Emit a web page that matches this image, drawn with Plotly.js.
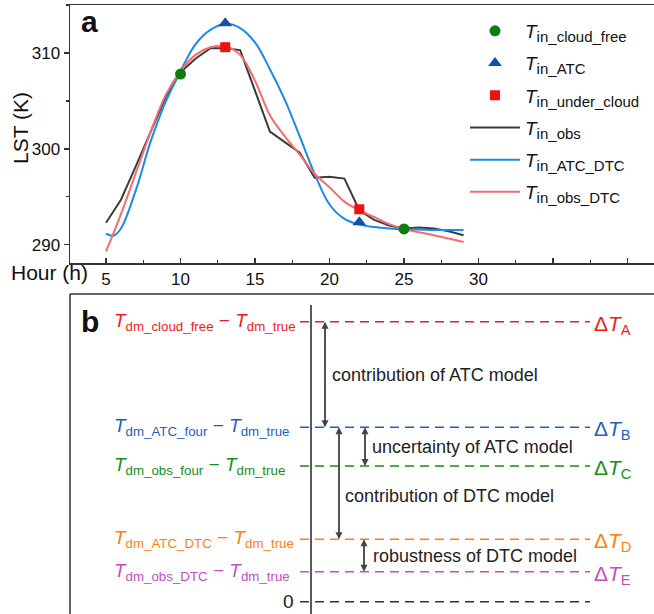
<!DOCTYPE html>
<html>
<head>
<meta charset="utf-8">
<script src="https://cdn.plot.ly/plotly-3.0.1.min.js"></script>
<style>html,body{margin:0;padding:0;background:#fff}#chart{width:654px;height:614px}</style>
</head>
<body>
<div id="chart"></div>
<script>
// ---------- Panel a data ----------
const obsHours = [5,6,7,8,9,10,11,12,13,14,15,16,17,18,19,20,21,22,23,24,25,26,27,28,29];
const obsLST = [292.3,294.7,298.2,301.8,305.4,308.0,309.4,310.5,310.5,310.3,306.0,301.8,300.7,299.6,297.0,297.1,296.9,293.6,292.6,292.0,291.7,291.8,291.7,291.4,291.0];

const atcDtcHours = [5,5.5,6,7,8,9,10,11,12,13,14,15,16,17,18,19,20,21,22,23,24,25,26,27,28,29];
const atcDtcLST = [291.15,290.95,291.7,295.7,300.8,304.9,308.1,310.9,312.4,313.05,312.6,311.1,308.3,305.1,301.3,297.4,294.2,292.7,292.1,291.85,291.7,291.6,291.6,291.55,291.55,291.55];

const obsDtcHours = [5,6,7,8,9,10,11,12,13,14,15,16,17,18,19,20,21,22,23,24,25,26,27,28,29];
const obsDtcLST = [289.3,293.2,297.5,301.8,305.6,308.1,309.8,310.6,310.7,309.8,307.1,303.5,301.3,299.4,297.4,296.0,294.5,293.6,292.9,292.15,291.65,291.3,291.0,290.65,290.3];

const cloudFreeHours = [10,25];
const cloudFreeLST = [307.8,291.65];
const atcHours = [13,22];
const atcLST = [313.1,292.35];
const underCloudHours = [13,22];
const underCloudLST = [310.6,293.7];

const xTickVals = [5,10,15,20,25,30,35,40];
const xTickText = ['5','10','15','20','25','30','',''];
const yTickVals = [290,300,310];

// ---------- Panel b data ----------
const levelKeys = ['A','B','C','D','E','0'];
const levelValues = [280,174.4,135.7,62.4,30,0];
const levelColors = ['#ee1c1c','#1f5fbf','#1a8c1a','#ff7f0e','#c050c0','#333333'];
const levelLabels = [
  '<i>T</i><sub>dm_cloud_free</sub> − <i>T</i><sub>dm_true</sub>',
  '<i>T</i><sub>dm_ATC_four</sub> − <i>T</i><sub>dm_true</sub>',
  '<i>T</i><sub>dm_obs_four</sub> − <i>T</i><sub>dm_true</sub>',
  '<i>T</i><sub>dm_ATC_DTC</sub> − <i>T</i><sub>dm_true</sub>',
  '<i>T</i><sub>dm_obs_DTC</sub> − <i>T</i><sub>dm_true</sub>',
  '0'
];
const deltaLabels = ['Δ<i>T</i><sub>A</sub>','Δ<i>T</i><sub>B</sub>','Δ<i>T</i><sub>C</sub>','Δ<i>T</i><sub>D</sub>','Δ<i>T</i><sub>E</sub>',''];
// arrows between levels
const arrowFrom = [0,1,1,3];
const arrowTo = [1,2,3,4];
const arrowX = [325,365,339,364];
const arrowText = ['contribution of ATC model','uncertainty of ATC model','contribution of DTC model','robustness of DTC model'];
const arrowTextX = [330,370,343,371];
const arrowTextY = [226.7,155,105.7,45.7];

const FONT = 'Arial, "Liberation Sans", sans-serif';
const W = 654, H = 614;
const py = p => (H - p) / H; // pixel y -> paper
const px = p => p / W;
const legName = sub => '<i>T</i><sub><span style="font-size:15px">' + sub + '</span></sub>';

const traces = [
  {x: obsHours, y: obsLST, mode: 'lines', line: {color: '#3c3c3c', width: 2}, name: legName('in_obs'), legendrank: 4, legendgroup: 'g4'},
  {x: atcDtcHours, y: atcDtcLST, mode: 'lines', line: {color: '#1a8ae8', width: 2, shape: 'spline', smoothing: 1}, name: legName('in_ATC_DTC'), legendrank: 5, legendgroup: 'g5'},
  {x: obsDtcHours, y: obsDtcLST, mode: 'lines', line: {color: '#f86c6c', width: 2, shape: 'spline', smoothing: 1}, name: legName('in_obs_DTC'), legendrank: 6, legendgroup: 'g6'},
  {x: cloudFreeHours, y: cloudFreeLST, mode: 'markers', marker: {symbol: 'circle', size: 11, color: '#117a11'}, name: legName('in_cloud_free'), legendrank: 1, legendgroup: 'g1'},
  {x: atcHours, y: atcLST, mode: 'markers', marker: {symbol: 'triangle-up', size: 12, color: '#1052aa'}, name: legName('in_ATC'), legendrank: 2, legendgroup: 'g2'},
  {x: underCloudHours, y: underCloudLST, mode: 'markers', marker: {symbol: 'square', size: 10, color: '#ee1111'}, name: legName('in_under_cloud'), legendrank: 3, legendgroup: 'g3'}
];

const shapes = [];
const annotations = [];

// Panel b frame
shapes.push({type: 'line', xref: 'paper', yref: 'paper', x0: px(70), x1: 1, y0: py(294), y1: py(294), line: {color: '#333', width: 1.5}});
shapes.push({type: 'line', xref: 'paper', yref: 'paper', x0: px(70), x1: px(70), y0: py(294), y1: 0, line: {color: '#333', width: 1.5}});
// Panel b vertical axis
shapes.push({type: 'line', xref: 'x2', yref: 'y2', x0: 311, x1: 311, y0: 296.7, y1: -12.3, line: {color: '#222', width: 1.5}});

levelValues.forEach((v, i) => {
  shapes.push({type: 'line', xref: 'x2', yref: 'y2', x0: 300, x1: 590, y0: v, y1: v,
    line: {color: levelColors[i], width: 1.5, dash: '9px,6px'}});
  if (levelKeys[i] === '0') {
    annotations.push({xref: 'x2', yref: 'y2', x: 296, y: v, text: levelLabels[i], showarrow: false,
      xanchor: 'right', yanchor: 'middle', font: {family: FONT, size: 19, color: '#222'}});
  } else {
    annotations.push({xref: 'x2', yref: 'y2', x: 112, y: v, text: levelLabels[i], showarrow: false,
      xanchor: 'left', yanchor: 'middle', font: {family: FONT, size: 19, color: levelColors[i]}});
    annotations.push({xref: 'x2', yref: 'y2', x: 592, y: v, text: deltaLabels[i], showarrow: false,
      xanchor: 'left', yanchor: 'middle', yshift: -3, font: {family: FONT, size: 21, color: levelColors[i]}});
  }
});

arrowFrom.forEach((f, i) => {
  const yTop = levelValues[f], yBot = levelValues[arrowTo[i]];
  const common = {xref: 'x2', yref: 'y2', axref: 'x2', ayref: 'y2', text: '', showarrow: true,
    arrowhead: 2, arrowsize: 1, arrowwidth: 1.4, arrowcolor: '#444', standoff: 0};
  annotations.push(Object.assign({}, common, {x: arrowX[i], y: yTop, ax: arrowX[i], ay: yBot}));
  annotations.push(Object.assign({}, common, {x: arrowX[i], y: yBot, ax: arrowX[i], ay: yTop}));
  annotations.push({xref: 'x2', yref: 'y2', x: arrowTextX[i], y: arrowTextY[i], text: arrowText[i], showarrow: false,
    xanchor: 'left', yanchor: 'middle', font: {family: FONT, size: 18, color: '#222'}});
});

// Panel letters and axis labels
annotations.push({xref: 'paper', yref: 'paper', x: px(79), y: py(21.5), text: '<b>a</b>', showarrow: false,
  xanchor: 'left', yanchor: 'middle', font: {family: FONT, size: 30, color: '#111'}});
annotations.push({xref: 'paper', yref: 'paper', x: px(79), y: py(321.5), text: '<b>b</b>', showarrow: false,
  xanchor: 'left', yanchor: 'middle', font: {family: FONT, size: 30, color: '#111'}});
annotations.push({xref: 'paper', yref: 'paper', x: px(49), y: py(272), text: 'Hour (h)', showarrow: false,
  xanchor: 'center', yanchor: 'middle', font: {family: FONT, size: 21, color: '#111'}});
annotations.push({xref: 'paper', yref: 'paper', x: px(21), y: py(128), text: 'LST (K)', showarrow: false, textangle: -90,
  xanchor: 'center', yanchor: 'middle', font: {family: FONT, size: 21, color: '#111'}});

const layout = {
  width: W, height: H,
  margin: {l: 0, r: 0, t: 0, b: 0},
  paper_bgcolor: '#fff', plot_bgcolor: 'rgba(0,0,0,0)',
  font: {family: FONT, color: '#111'},
  showlegend: true,
  legend: {x: px(465), y: py(12), xanchor: 'left', yanchor: 'top', bgcolor: 'rgba(0,0,0,0)',
    font: {family: FONT, size: 19, color: '#111'}, itemwidth: 50, tracegroupgap: 4.5, traceorder: 'grouped'},
  xaxis: {domain: [px(70), 1], range: [2.58, 41.78], showgrid: false, zeroline: false,
    showline: true, mirror: true, linecolor: '#333', linewidth: 1.5,
    tickmode: 'array', tickvals: xTickVals, ticktext: xTickText, ticks: 'inside', ticklen: 5, tickwidth: 1.3, tickcolor: '#333',
    minor: {dtick: 2.5, tick0: 0, ticks: 'inside', ticklen: 3, tickwidth: 1.2, tickcolor: '#333'},
    tickfont: {family: FONT, size: 17, color: '#111'}},
  yaxis: {domain: [py(263), py(5)], range: [288.1, 315.0], showgrid: false, zeroline: false,
    showline: true, linecolor: '#333', linewidth: 1.5,
    tickmode: 'array', tickvals: yTickVals, ticks: 'outside', ticklen: 5, tickwidth: 1.3, tickcolor: '#333',
    minor: {dtick: 5, tick0: 0, ticks: 'outside', ticklen: 3, tickwidth: 1.2, tickcolor: '#333'},
    tickfont: {family: FONT, size: 17, color: '#111'}},
  xaxis2: {domain: [0, 1], range: [0, 654], visible: false, anchor: 'y2'},
  yaxis2: {domain: [0, py(294)], range: [-12.3, 307.7], visible: false, anchor: 'x2'},
  shapes: shapes,
  annotations: annotations
};

Plotly.newPlot('chart', traces, layout, {displayModeBar: false, staticPlot: true});
</script>
</body>
</html>
